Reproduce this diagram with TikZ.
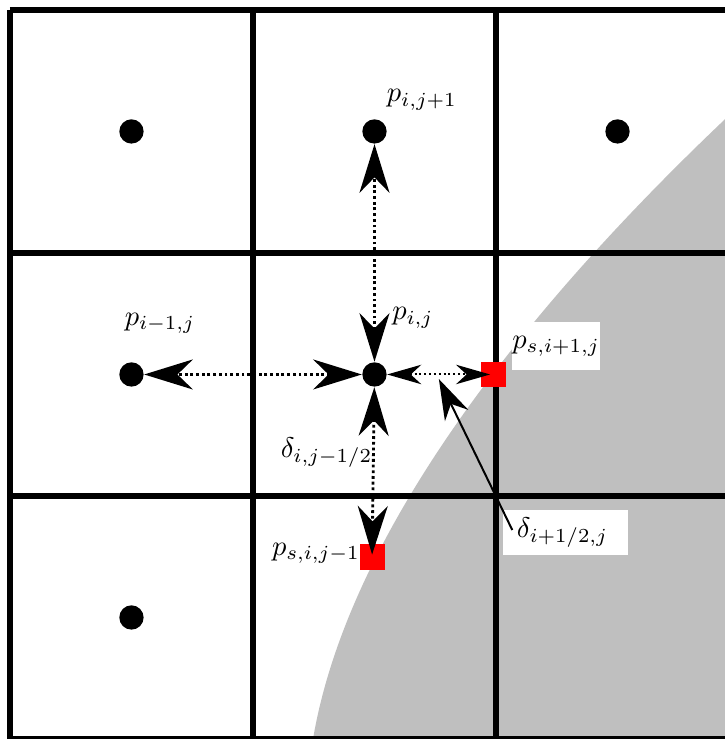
\documentclass[tikz,border=0pt]{standalone}
\usepackage{xcolor}
\usepackage{tikz}
\usetikzlibrary{arrows.meta,positioning,calc}
\definecolor{solide}{RGB}{191,191,191}
\definecolor{paroiR}{RGB}{255,0,0}
\tikzset{
  grille/.style={line width=2.1pt},
  centre/.style={circle, fill=black, inner sep=0pt, minimum size=3mm},
  paroi/.style={rectangle, fill=paroiR, inner sep=0pt, minimum size=3.1mm},
  etiq/.style={inner sep=0pt},
  boite/.style={rectangle, fill=white, inner ysep=0pt, minimum height=#1},
  flux/.style={{Stealth[length=6mm, width=3.7mm, inset=1.9mm]}-{Stealth[length=6mm, width=3.7mm, inset=1.9mm]},
               densely dotted, line width=1pt},
  fluxfin/.style={{Stealth[length=4.2mm, width=2.4mm, inset=1.3mm]}-{Stealth[length=4.2mm, width=2.4mm, inset=1.3mm]},
               densely dotted, line width=0.7pt},
  pointe/.style={-{Stealth[length=5mm, width=3.2mm, inset=1.6mm]}, line width=0.7pt},
}

\begin{document}
\begin{tikzpicture}[x=3cm, y=3cm]
  \useasboundingbox (-0.041,0) rectangle (2.942,3.041);
  \clip (-0.041,0) rectangle (2.942,3.041);
  % solide
  \fill[solide] (1.247,0) .. controls (1.383,0.8) and (2.042,1.695) .. (2.942,2.55)
    -- (3.05,2.65) -- (3.1,2.65) -- (3.1,-0.1) -- (1.247,-0.1) -- cycle;
  \draw[grille, step=3cm] (0,0) grid (3,3);
  % etiquettes sur fond blanc
  \node[boite=5.9mm, minimum width=1.01cm, inner xsep=0pt] (lse) at (2.247,1.617) {$p_{s,i+1,j}$};
  \node[boite=5.6mm, text width=12mm, inner xsep=1.7mm, align=left] (ldx) at (2.286,0.850) {$\delta_{i+1/2,j}$};
  % centres des mailles
  \foreach \x/\y/\n in {0.5/2.5/nw, 1.5/2.5/n, 2.5/2.5/ne, 0.5/1.5/w, 1.5/1.5/c, 0.5/0.5/sw}
    \node[centre] (\n) at (\x,\y) {};
  \node[paroi] (se) at (1.99,1.5) {};
  \node[paroi] (ss) at (1.49,0.749) {};
  \draw[flux] (c) -- (n);
  \draw[flux] (c) -- (w);
  \draw[flux, shorten >=0.3mm] (c) -- (ss.center);
  \draw[fluxfin, shorten >=0.43mm] (c) -- (se.center);
  \coordinate (cible) at (1.765,1.481);
  \draw[pointe] ([shift={(1.2mm,0.3mm)}]ldx.west) -- (cible);
  \node[etiq] (ln) at (1.695,2.630) {$p_{i,j+1}$};
  \node[etiq] (lw) at (0.617,1.712) {$p_{i-1,j}$};
  \node[etiq] (lc) at (1.658,1.733) {$p_{i,j}$};
  \node[etiq] (ldy) at (1.303,1.179) {$\delta_{i,j-1/2}$};
  \node[etiq] (lss) at (1.259,0.765) {$p_{s,i,j-1}$};
\end{tikzpicture}
\end{document}
